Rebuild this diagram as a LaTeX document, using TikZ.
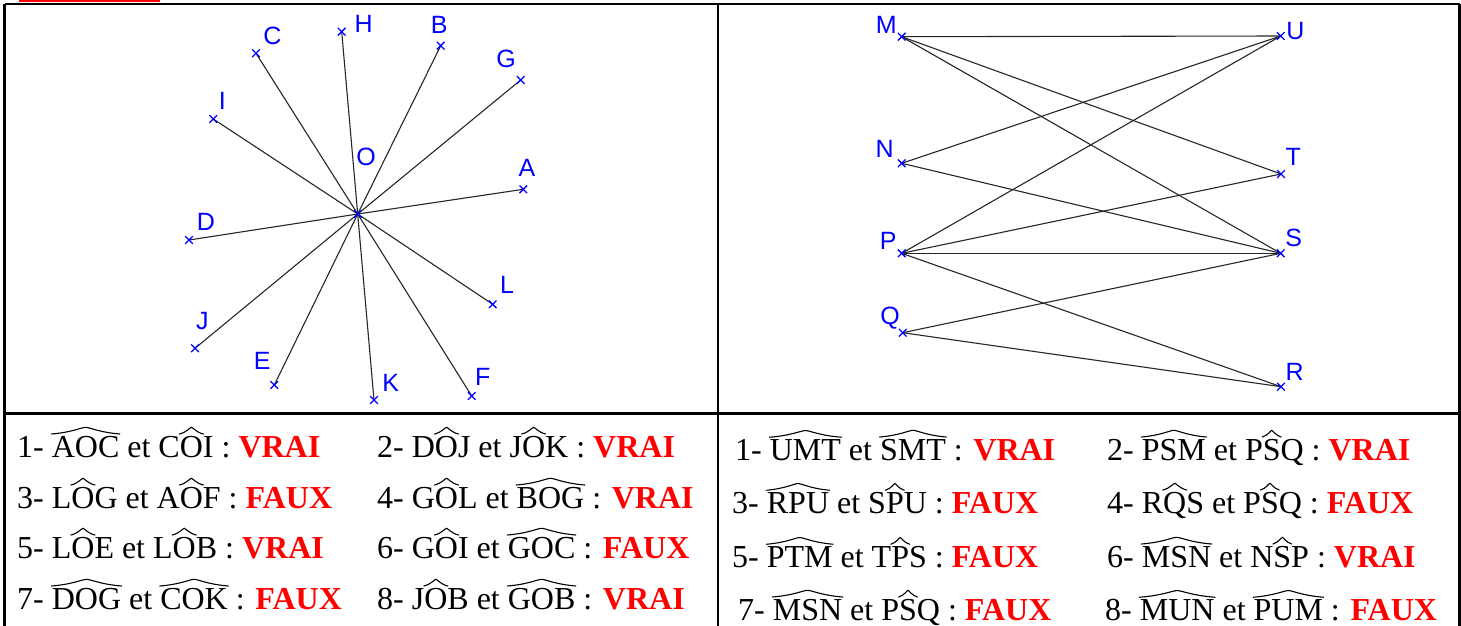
\documentclass[tikz,border=0pt]{standalone}
\usepackage{fontspec}
\setmainfont{Liberation Serif}
\newfontfamily\lblfont{Liberation Sans}
\definecolor{ptblue}{RGB}{0,0,255}
\definecolor{ansred}{RGB}{255,0,0}
\newsavebox\hatbox
\newdimen\hatw
\newdimen\hath
\newcommand\wh[1]{\sbox\hatbox{#1}\hatw=\wd\hatbox\hath=\ht\hatbox\makebox[0pt][l]{\usebox\hatbox}\tikz[baseline=0pt,x=1pt,y=1pt]{\useasboundingbox (0pt,0pt) rectangle (\hatw,\hath);
\draw[line width=1.1pt,line cap=round,black] (-0.5pt,\hath+1.8pt) .. controls (0.3*\hatw,\hath+3.5pt) and (0.44*\hatw,\hath+8.5pt) .. (0.5*\hatw,\hath+8.5pt) .. controls (0.56*\hatw,\hath+8.5pt) and (0.7*\hatw,\hath+3.5pt) .. (\hatw+0.5pt,\hath+1.8pt);}}
\newcommand\ans[1]{\textcolor{ansred}{\textbf{#1}}}
\begin{document}
\begin{tikzpicture}[x=1pt,y=-1pt,
  ray/.style={draw=black!85,line width=1.1pt},
  crossmark/.style={draw=ptblue,line width=1.3pt},
  lbl/.style={text=ptblue,font=\lblfont\fontsize{25}{25}\selectfont,inner sep=0pt},
  row/.style={anchor=base west,inner sep=0pt,font=\fontsize{32}{36}\selectfont},
  frame/.style={line width=2.2pt,draw=black}]
\useasboundingbox (0,0) rectangle (1461,625);
\clip (0,0) rectangle (1461,625);
% top red bar
\fill[ansred] (19,0) rectangle (160,2);
% table frame
\draw[frame] (4.5,4) -- (1459.5,4);
\draw[frame] (4.5,4) -- (4.5,640);
\draw[frame] (1459.5,4) -- (1459.5,640);
\draw[frame] (718,4) -- (718,640);
\draw[frame] (4.5,413.5) -- (1459.5,413.5);
% left figure points
\coordinate (O) at (357.7,214);
\coordinate (A) at (523.3,189.3);
\coordinate (B) at (440.7,45.7);
\coordinate (C) at (256,53.3);
\coordinate (D) at (189,240);
\coordinate (E) at (274.3,385);
\coordinate (F) at (471.7,396);
\coordinate (G) at (520.7,80);
\coordinate (H) at (341.7,31.7);
\coordinate (I) at (213.3,119);
\coordinate (J) at (195,348.3);
\coordinate (K) at (374,400);
\coordinate (L) at (492.7,304.3);
\foreach \p in {A,B,C,D,E,F,G,H,I,J,K,L} \draw[ray] (O) -- (\p);
\foreach \p in {O,A,B,C,D,E,F,G,H,I,J,K,L}
  \draw[crossmark,shift={(\p)}] (-3.8,-3.8) -- (3.8,3.8) (-3.8,3.8) -- (3.8,-3.8);
\node[lbl] (lO) at (366,156.7) {O};
\node[lbl] (lA) at (527,168.3) {A};
\node[lbl] (lB) at (439.3,24.7) {B};
\node[lbl] (lC) at (272.3,35.7) {C};
\node[lbl] (lD) at (206,221.7) {D};
\node[lbl] (lE) at (262.3,360.7) {E};
\node[lbl] (lF) at (482.7,376.7) {F};
\node[lbl] (lG) at (506,59.3) {G};
\node[lbl] (lH) at (363.7,24) {H};
\node[lbl] (lI) at (222.3,100.7) {I};
\node[lbl] (lJ) at (202.3,320.7) {J};
\node[lbl] (lK) at (390.7,383.3) {K};
\node[lbl] (lL) at (507,285.3) {L};
% right figure points
\coordinate (M) at (901.7,36.7);
\coordinate (U) at (1280.7,36);
\coordinate (N) at (901.7,163.3);
\coordinate (T) at (1281,174);
\coordinate (P) at (901.7,253.3);
\coordinate (S) at (1280.7,253.3);
\coordinate (Q) at (902.7,332.7);
\coordinate (R) at (1281,386.7);
\draw[ray] (M) -- (U);
\draw[ray] (M) -- (T);
\draw[ray] (M) -- (S);
\draw[ray] (N) -- (U);
\draw[ray] (N) -- (S);
\draw[ray] (P) -- (U);
\draw[ray] (P) -- (T);
\draw[ray] (P) -- (S);
\draw[ray] (P) -- (R);
\draw[ray] (Q) -- (S);
\draw[ray] (Q) -- (R);
\foreach \p in {M,U,N,T,P,S,Q,R}
  \draw[crossmark,shift={(\p)}] (-3.8,-3.8) -- (3.8,3.8) (-3.8,3.8) -- (3.8,-3.8);
\node[lbl] (lM) at (886.3,25.3) {M};
\node[lbl] (lU) at (1295.3,30.7) {U};
\node[lbl] (lN) at (884.7,149.3) {N};
\node[lbl] (lT) at (1293.3,157.3) {T};
\node[lbl] (lP) at (888.3,240.7) {P};
\node[lbl] (lS) at (1293.7,238) {S};
\node[lbl] (lQ) at (890,318.3) {Q};
\node[lbl] (lR) at (1294.7,371.7) {R};
% left answers
\node[row] (a1) at (17,457) {1- \wh{AOC} et C\wh{O}I : \ans{VRAI}};
\node[row] (a2) at (377,457) {2- D\wh{O}J et J\wh{O}K : \ans{VRAI}};
\node[row] (a3) at (17,508) {3- L\wh{O}G et A\wh{O}F : \ans{FAUX}};
\node[row] (a4) at (377,508) {4- G\wh{O}L et \wh{BOG} : \ans{VRAI}};
\node[row] (a5) at (17,558) {5- L\wh{O}E et L\wh{O}B : \ans{VRAI}};
\node[row] (a6) at (377,558) {6- G\wh{O}I et \wh{GOC} : \ans{FAUX}};
\node[row] (a7) at (17,609) {7- \wh{DOG} et \wh{COK} : \ans{FAUX}};
\node[row] (a8) at (377,609) {8- J\wh{O}B et \wh{GOB} : \ans{VRAI}};
% right answers
\node[row] (b1) at (735,460) {1- \wh{UMT} et \wh{SMT} : \ans{VRAI}};
\node[row] (b2) at (1107,460) {2- \wh{PSM} et P\wh{S}Q : \ans{VRAI}};
\node[row] (b3) at (732,513) {3- \wh{RPU} et S\wh{P}U : \ans{FAUX}};
\node[row] (b4) at (1107,513) {4- R\wh{Q}S et P\wh{S}Q : \ans{FAUX}};
\node[row] (b5) at (732,567) {5- \wh{PTM} et T\wh{P}S : \ans{FAUX}};
\node[row] (b6) at (1107,567) {6- \wh{MSN} et N\wh{S}P : \ans{VRAI}};
\node[row] (b7) at (738,620) {7- \wh{MSN} et P\wh{S}Q : \ans{FAUX}};
\node[row] (b8) at (1105,620) {8- \wh{MUN} et \wh{PUM} : \ans{FAUX}};
\end{tikzpicture}
\end{document}
